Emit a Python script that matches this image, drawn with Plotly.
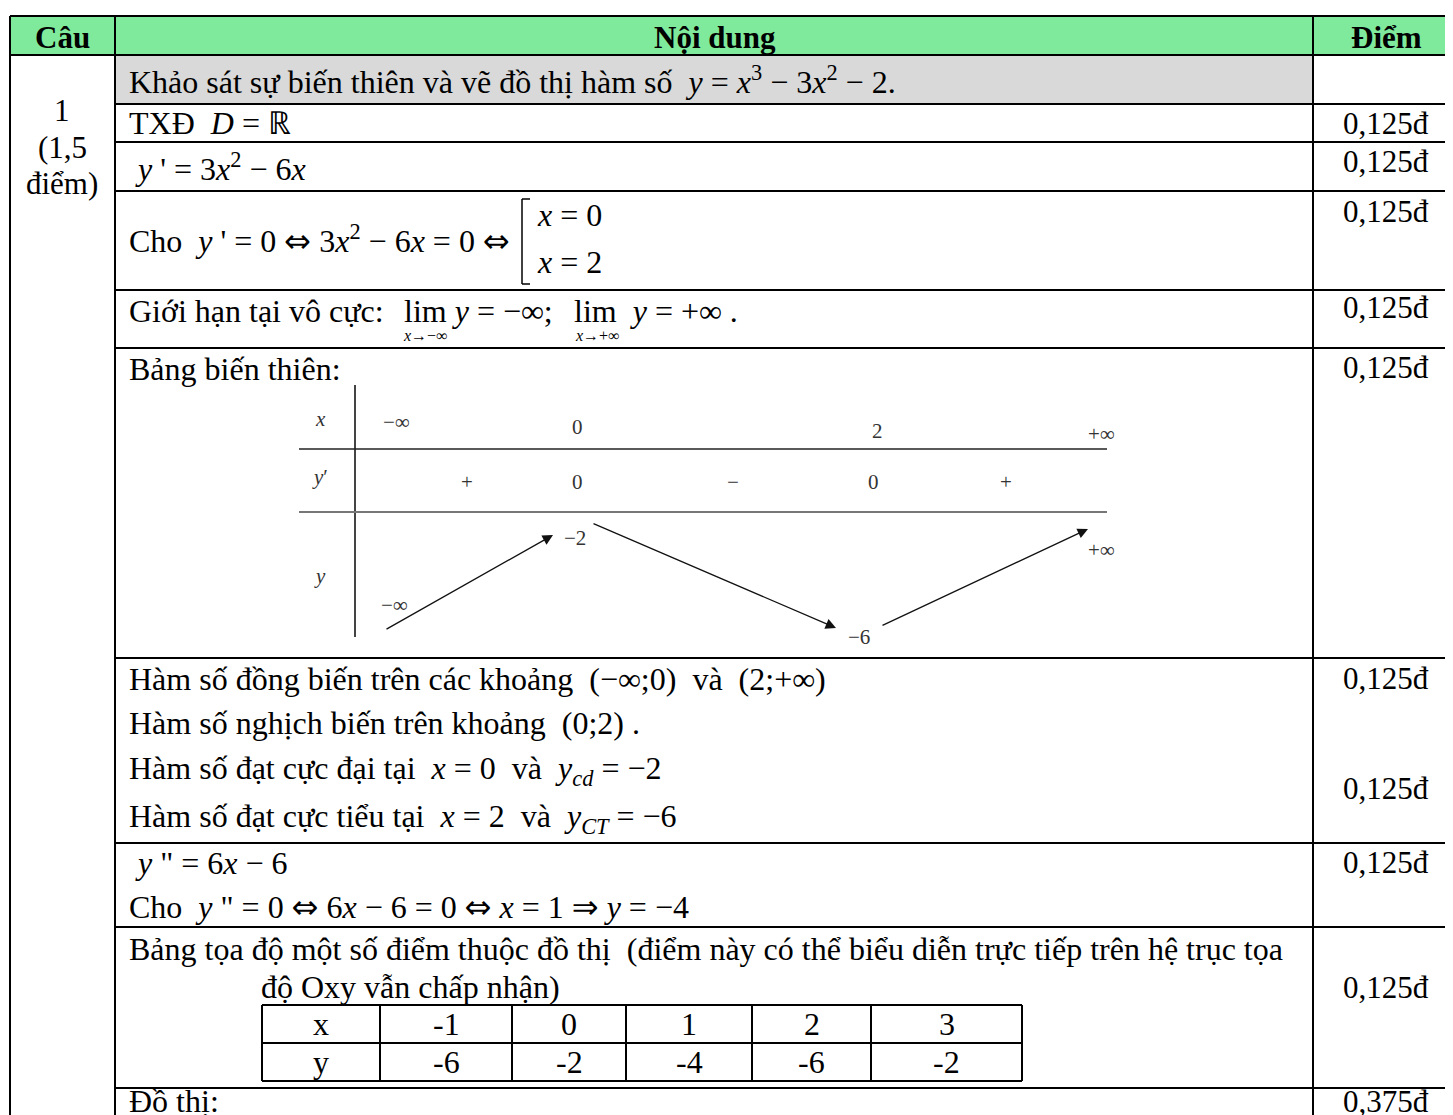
import plotly.graph_objects as go

# ---- data ----
header = ["Câu", "Nội dung", "Điểm"]
cau_lines = ["1", "(1,5", "điểm)"]
scores = ["0,125đ", "0,125đ", "0,125đ", "0,125đ", "0,125đ",
          "0,125đ", "0,125đ", "0,125đ", "0,125đ", "0,375đ"]

bbt_x = ["−∞", "0", "2", "+∞"]
bbt_dy = ["+", "0", "−", "0", "+"]
bbt_y_top = ["−2", "+∞"]
bbt_y_bot = ["−∞", "−6"]

points_x = [-1, 0, 1, 2, 3]
points_y = [-6, -2, -4, -6, -2]

# ---- layout (page pixel positions) ----
W, H = 1453, 1115
OFF = 8  # body margin of the page
FONT = "Liberation Serif"
FS = 32
col_l, col_a, col_b, col_r = 10, 115, 1313, 1460
row_lines = [16, 55, 104, 142, 191, 290, 348, 658, 843, 927, 1088]
score_y = [123, 161, 211, 307, 367, 678, 788, 862, 987, 1101]

fig = go.Figure()
shapes = []
ann = []

ARR = '<span style="font-family:DejaVu Sans">⇔</span>'
IMP = '<span style="font-family:DejaVu Sans">⇒</span>'


def line(x0, y0, x1, y1, w=2, c="black"):
    shapes.append(dict(type="line", x0=x0, y0=y0, x1=x1, y1=y1, xref="x", yref="y",
                       line=dict(color=c, width=w)))


def text(x, y, s, size=FS, anchor="left", color="black", font=FONT):
    ann.append(dict(x=x, y=y, text=s, showarrow=False, xref="x", yref="y",
                    xanchor=anchor, yanchor="middle",
                    font=dict(family=font, size=size, color=color)))


# backgrounds
shapes.append(dict(type="rect", x0=col_l, x1=col_r, y0=16, y1=55, fillcolor="#7FEA9B",
                   line=dict(width=0), layer="below"))
shapes.append(dict(type="rect", x0=col_a, x1=col_b, y0=55, y1=104, fillcolor="#D9D9D9",
                   line=dict(width=0), layer="below"))

# grid of main table
line(col_l, 16, col_r, 16)
line(col_l, 55, col_r, 55)
for yy in row_lines[2:]:
    line(col_a, yy, col_r, yy)
line(col_l, 16, col_l, H + 5)
line(col_a, 16, col_a, H + 5)
line(col_b, 16, col_b, H + 5)

# header
text(62, 37, "<b>" + header[0] + "</b>", size=31, anchor="center")
text(715, 37, "<b>" + header[1] + "</b>", size=31, anchor="center")
text(1386, 37, "<b>" + header[2] + "</b>", size=31, anchor="center")

for s, yy in zip(cau_lines, [110, 147, 183]):
    text(62, yy, s, size=31, anchor="center")

for s, yy in zip(scores, score_y):
    text(1386, yy, s, size=31, anchor="center")

# content rows
L = 127
text(L, 80, "Khảo sát sự biến thiên và vẽ đồ thị hàm số  <i>y</i> = <i>x</i><sup>3</sup> − 3<i>x</i><sup>2</sup> − 2.")
text(L, 123, "TXĐ  <i>D</i> = ℝ")
text(L + 6, 167, "<i>y</i> ' = 3<i>x</i><sup>2</sup> − 6<i>x</i>")
text(L, 239, "Cho  <i>y</i> ' = 0 " + ARR + " 3<i>x</i><sup>2</sup> − 6<i>x</i> = 0 " + ARR)
# bracket of the system
line(522, 199, 522, 284, w=1.5)
line(522, 199, 530, 199, w=1.5)
line(522, 284, 530, 284, w=1.5)
text(535, 215, "<i>x</i> = 0")
text(535, 262, "<i>x</i> = 2")

text(L, 311, "Giới hạn tại vô cực:")
text(402, 311, "lim <i>y</i> = −∞;")
text(572, 311, "lim  <i>y</i> = +∞ .")
text(425, 335, "<i>x</i>→−∞", size=16, anchor="center")
text(597, 335, "<i>x</i>→+∞", size=16, anchor="center")

text(L, 369, "Bảng biến thiên:")

# bảng biến thiên
BF = "Liberation Serif"
BC = "#333333"
BS = 21
line(355, 385, 355, 637, w=2, c="#444444")
line(299, 449, 1107, 449, w=1.5, c="#222222")
line(299, 512, 1107, 512, w=2, c="#777777")
text(320, 419, "<i>x</i>", size=BS, anchor="center", color=BC, font=BF)
text(320, 477, "<i>y</i>′", size=BS, anchor="center", color=BC, font=BF)
text(320, 576, "<i>y</i>", size=BS, anchor="center", color=BC, font=BF)
for s, xx, yy in zip(bbt_x, [396, 577, 877, 1101], [422, 427, 431, 434]):
    text(xx, yy, s, size=BS, anchor="center", color=BC, font=BF)
for s, xx in zip(bbt_dy, [467, 577, 733, 873, 1006]):
    text(xx, 482, s, size=BS, anchor="center", color=BC, font=BF)
for s, xx, yy in zip(bbt_y_top, [575, 1101], [538, 550]):
    text(xx, yy, s, size=BS, anchor="center", color=BC, font=BF)
for s, xx, yy in zip(bbt_y_bot, [394, 859], [605, 637]):
    text(xx, yy, s, size=BS, anchor="center", color=BC, font=BF)
for (x0, y0, x1, y1) in [(385, 630, 553, 535), (592, 523, 836, 628), (881, 626, 1088, 529)]:
    ann.append(dict(x=x1, y=y1, ax=x0, ay=y0, xref="x", yref="y", axref="x", ayref="y",
                    text="", showarrow=True, arrowhead=2, arrowsize=1.6, arrowwidth=1.3,
                    arrowcolor="#111111", standoff=0, startstandoff=0))

# monotonicity and extrema
text(L, 679, "Hàm số đồng biến trên các khoảng  (−∞;0)  và  (2;+∞)")
text(L, 723, "Hàm số nghịch biến trên khoảng  (0;2) .")
text(L, 770, "Hàm số đạt cực đại tại  <i>x</i> = 0  và  <i>y<sub>cd</sub></i> = −2")
text(L, 818, "Hàm số đạt cực tiểu tại  <i>x</i> = 2  và  <i>y<sub>CT</sub></i> = −6")

text(L + 6, 863, "<i>y</i> \" = 6<i>x</i> − 6")
text(L, 907, "Cho  <i>y</i> \" = 0 " + ARR + " 6<i>x</i> − 6 = 0 " + ARR + " <i>x</i> = 1 " + IMP + " <i>y</i> = −4")

text(L, 949, "Bảng tọa độ một số điểm thuộc đồ thị  (điểm này có thể biểu diễn trực tiếp trên hệ trục tọa")
text(259, 987, "độ Oxy vẫn chấp nhận)")

# points table
tx = [262, 380, 512, 626, 752, 871, 1022]
ty = [1005, 1043, 1081]
for xx in tx:
    line(xx, ty[0], xx, ty[-1])
for yy in ty:
    line(tx[0], yy, tx[-1], yy)
text((tx[0] + tx[1]) / 2, 1024, "x", anchor="center")
text((tx[0] + tx[1]) / 2, 1062, "y", anchor="center")
for i, (px, py) in enumerate(zip(points_x, points_y)):
    cx = (tx[i + 1] + tx[i + 2]) / 2
    text(cx, 1024, str(px), anchor="center")
    text(cx, 1062, str(py), anchor="center")

text(L, 1101, "Đồ thị:")

fig.update_layout(
    width=W - OFF, height=H - OFF, margin=dict(l=0, r=0, t=0, b=0),
    xaxis=dict(range=[OFF, W], visible=False, fixedrange=True),
    yaxis=dict(range=[H, OFF], visible=False, fixedrange=True),
    plot_bgcolor="white", paper_bgcolor="white", showlegend=False,
    shapes=shapes, annotations=ann,
)

fig.write_html("out.html")
